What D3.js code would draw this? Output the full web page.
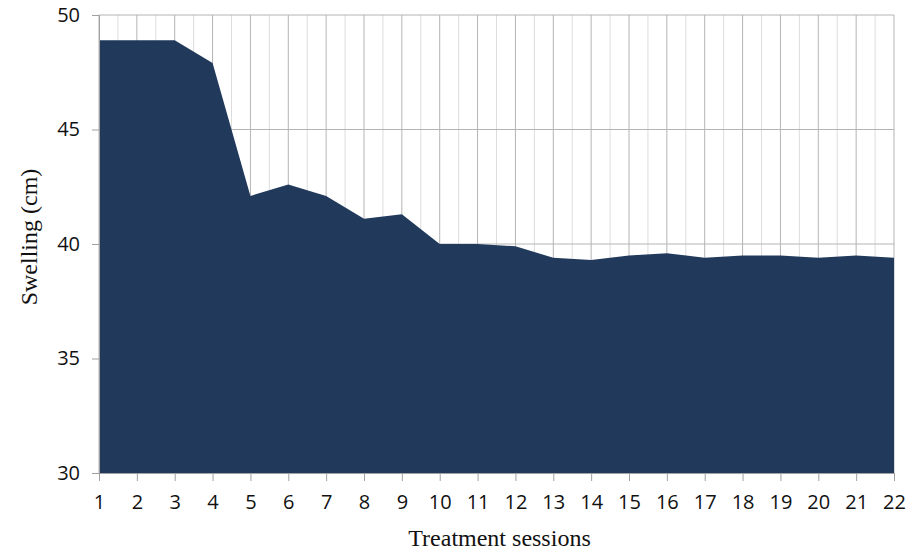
<!DOCTYPE html>
<html>
<head>
<meta charset="utf-8">
<script src="https://cdn.jsdelivr.net/npm/d3@7"></script>
<style>
  body { margin: 0; background: #fff; }
  .tick text { font-family: "Open Sans", "Noto Sans", sans-serif; font-size: 20px; fill: #111; }
  .axis-label { font-family: "Liberation Serif", "DejaVu Serif", serif; font-size: 24px; fill: #111; }
</style>
</head>
<body>
<svg id="chart"></svg>
<script>
// sessions and swelling (cm)
let sessions = d3.range(1, 23)
let swelling = [48.9, 48.9, 48.9, 47.9, 42.1, 42.6, 42.1, 41.1, 41.3, 40.0, 40.0,
                39.9, 39.4, 39.3, 39.5, 39.6, 39.4, 39.5, 39.5, 39.4, 39.5, 39.4]
let yTicks = [30, 35, 40, 45, 50]

let W = 918, H = 552
let margin = {top: 15, right: 24, bottom: 79, left: 99},
    width = W - margin.left - margin.right,
    height = H - margin.top - margin.bottom

let lineData = sessions.map((s, i) => [s, swelling[i]])

let svg = d3.select('#chart')
  .attr('width', W)
  .attr('height', H)
  .append('g')
  .attr('transform', 'translate(' + margin.left + ',' + margin.top + ')')

let x = d3.scaleLinear()
  .domain([1, 22])
  .range([0, width])

let y = d3.scaleLinear()
  .domain([30, 50])
  .range([height, 0])

// minor vertical grid (half sessions)
svg.append('g')
  .selectAll('line')
  .data(d3.range(1.5, 22, 1))
  .enter().append('line')
  .attr('x1', d => x(d)).attr('x2', d => x(d))
  .attr('y1', 0).attr('y2', height)
  .attr('stroke', '#dcdcdc')
  .attr('stroke-width', 1)

// major vertical grid
svg.append('g')
  .selectAll('line')
  .data(sessions)
  .enter().append('line')
  .attr('x1', d => x(d)).attr('x2', d => x(d))
  .attr('y1', 0).attr('y2', height)
  .attr('stroke', '#b4b4b4')
  .attr('stroke-width', 1)

// horizontal grid
svg.append('g')
  .selectAll('line')
  .data(yTicks)
  .enter().append('line')
  .attr('x1', 0).attr('x2', width)
  .attr('y1', d => y(d)).attr('y2', d => y(d))
  .attr('stroke', '#b4b4b4')
  .attr('stroke-width', 1)

let area = d3.area()
  .x(d => x(d[0]))
  .y0(height)
  .y1(d => y(d[1]))

svg.append('path')
  .datum(lineData)
  .attr('fill', '#213a5c')
  .attr('d', area)

// axes
let xAxis = svg.append('g')
  .attr('transform', 'translate(0,' + height + ')')
  .call(d3.axisBottom(x).tickValues(sessions).tickFormat(d3.format('d')).tickSize(8).tickPadding(14))
xAxis.select('.domain').attr('stroke', '#a0a0a0')
xAxis.selectAll('.tick line').attr('stroke', '#a0a0a0')

let yAxis = svg.append('g')
  .call(d3.axisLeft(y).tickValues(yTicks).tickSize(7).tickPadding(12))
yAxis.select('.domain').attr('stroke', '#a0a0a0')
yAxis.selectAll('.tick line').attr('stroke', '#a0a0a0')

// axis titles
svg.append('text')
  .attr('class', 'axis-label')
  .attr('text-anchor', 'middle')
  .attr('x', width / 2 + 3)
  .attr('y', height + 73)
  .text('Treatment sessions')

svg.append('text')
  .attr('class', 'axis-label')
  .attr('text-anchor', 'middle')
  .attr('transform', 'translate(-62,' + (y(40) - 7) + ') rotate(-90)')
  .text('Swelling (cm)')
</script>
</body>
</html>
